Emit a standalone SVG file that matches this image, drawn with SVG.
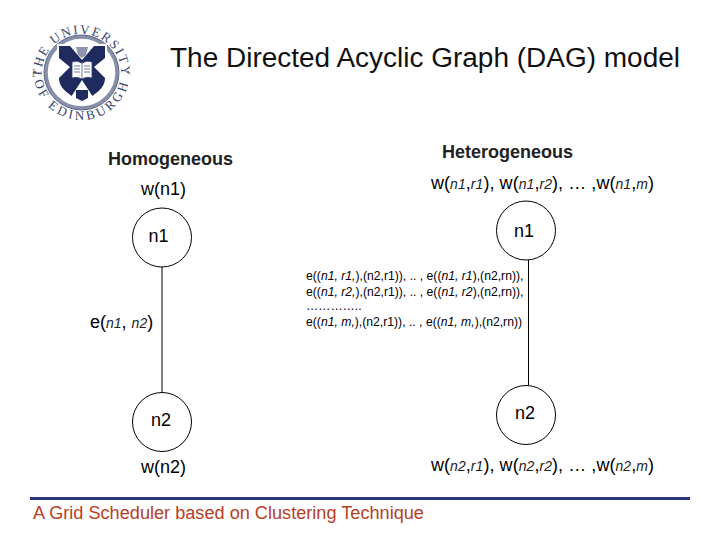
<svg xmlns="http://www.w3.org/2000/svg" width="720" height="540" viewBox="0 0 720 540">
<style>
text{font-family:"Liberation Sans",Arial,sans-serif;fill:#000}
.t{font-size:18px}
.i{font-style:italic;font-size:14px;fill:#222}
.h{font-size:18px;font-weight:bold;fill:#222}
.s{font-size:12.200px}
.n{fill:#fff;stroke:#000;stroke-width:1}
.e{stroke:#000;stroke-width:1;fill:none}
.lg{font-family:"Liberation Serif",serif;fill:#39426e}
</style>
<defs>
<path id="arcTop" d="M41.500 74A40 40 0 0 1 121.500 74"/>
<path id="arcBot" d="M33.500 72A48 48 0 0 0 129.500 72"/>
</defs>
<rect width="720" height="540" fill="#fff"/>
<g id="logo">
<circle cx="81.500" cy="72.500" r="35.500" fill="#fff" stroke="#8a8fa8" stroke-width="3.500"/>
<circle cx="81.500" cy="72.500" r="37.500" fill="none" stroke="#39426e" stroke-width="0.800"/>
<path d="M57 44H107V78C107 92 92 98 82 104C72 98 57 92 57 78Z" fill="#fff"/>
<path d="M59 46H105V78C105 90 92 96 82 102C72 96 59 90 59 78Z" fill="#1f2a5e"/>
<path d="M70 46H94L82 60Z" fill="#fff"/>
<path d="M59 58L70 67L59 78Z" fill="#fff"/>
<path d="M105 58L94 67L105 78Z" fill="#fff"/>
<path d="M82 80L93 97L82 102L71 97Z" fill="#fff"/>
<path d="M72 62Q77 60 82 63Q87 60 92 62V78Q87 76 82 79Q77 76 72 78Z" fill="#fff" stroke="#39426e" stroke-width="0.800"/>
<path d="M82 63V79M74 66H80M74 69H80M74 72H80M84 66H90M84 69H90M84 72H90" stroke="#39426e" stroke-width="0.700"/>
<path d="M76 47H88L86 55L82 58L78 55Z" fill="#8d93ad"/>
<path d="M76 90H88V98L82 101L76 98Z" fill="#1f2a5e"/>
<text class="lg" font-size="13" letter-spacing="1.800" text-anchor="middle"><textPath href="#arcTop" startOffset="50%">THE UNIVERSITY</textPath></text>
<text class="lg" font-size="13" letter-spacing="3" text-anchor="middle"><textPath href="#arcBot" startOffset="50%">OF EDINBURGH</textPath></text>
<circle cx="35" cy="72" r="1" fill="#39426e"/>
<circle cx="128" cy="72" r="1" fill="#39426e"/>
</g>
<text x="170" y="67" font-size="27" textLength="510" lengthAdjust="spacingAndGlyphs" style="fill:#111">The Directed Acyclic Graph (DAG) model</text>
<text class="h" x="108" y="165">Homogeneous</text>
<text class="h" x="442" y="158">Heterogeneous</text>
<text class="t" x="141" y="195">w(n1)</text>
<text class="t" x="431" y="189" textLength="223">w(<tspan class="i">n1</tspan>,<tspan class="i">r1</tspan>), w(<tspan class="i">n1</tspan>,<tspan class="i">r2</tspan>), … ,w(<tspan class="i">n1</tspan>,<tspan class="i">m</tspan>)</text>
<g id="connectors">
<line class="e" x1="162" y1="267" x2="162" y2="392"/>
<line class="e" x1="528.500" y1="260" x2="528.500" y2="385"/>
</g>
<g id="n1-left"><circle class="n" cx="162" cy="237.500" r="29.500"/><text class="t" x="158.500" y="242" text-anchor="middle">n1</text></g>
<g id="n2-left"><circle class="n" cx="162" cy="422" r="29.500"/><text class="t" x="161" y="426" text-anchor="middle">n2</text></g>
<g id="n1-right"><circle class="n" cx="526" cy="230.500" r="29.500"/><text class="t" x="524" y="237" text-anchor="middle">n1</text></g>
<g id="n2-right"><circle class="n" cx="526" cy="415" r="29.500"/><text class="t" x="525" y="419" text-anchor="middle">n2</text></g>
<text class="t" x="90" y="328">e(<tspan class="i">n1</tspan>, <tspan class="i">n2</tspan>)</text>
<text class="s" x="306" y="280">e((<tspan font-style="italic">n1, r1,</tspan>),(n2,r1)), .. , e((<tspan font-style="italic">n1, r1</tspan>),(n2,rn)),</text>
<text class="s" x="306" y="296">e((<tspan font-style="italic">n1, r2,</tspan>),(n2,r1)), .. , e((<tspan font-style="italic">n1, r2</tspan>),(n2,rn)),</text>
<text class="s" x="306" y="310">…………..</text>
<text class="s" x="306" y="326">e((<tspan font-style="italic">n1, m,</tspan>),(n2,r1)), .. , e((<tspan font-style="italic">n1, m,</tspan>),(n2,rn))</text>
<text class="t" x="141" y="473">w(n2)</text>
<text class="t" x="431" y="471" textLength="223">w(<tspan class="i">n2</tspan>,<tspan class="i">r1</tspan>), w(<tspan class="i">n2</tspan>,<tspan class="i">r2</tspan>), … ,w(<tspan class="i">n2</tspan>,<tspan class="i">m</tspan>)</text>
<rect x="30" y="497" width="660" height="3" fill="#2e3480"/>
<text x="33" y="519" font-size="18.150" style="fill:#b8401f">A Grid Scheduler based on Clustering Technique</text>
</svg>
